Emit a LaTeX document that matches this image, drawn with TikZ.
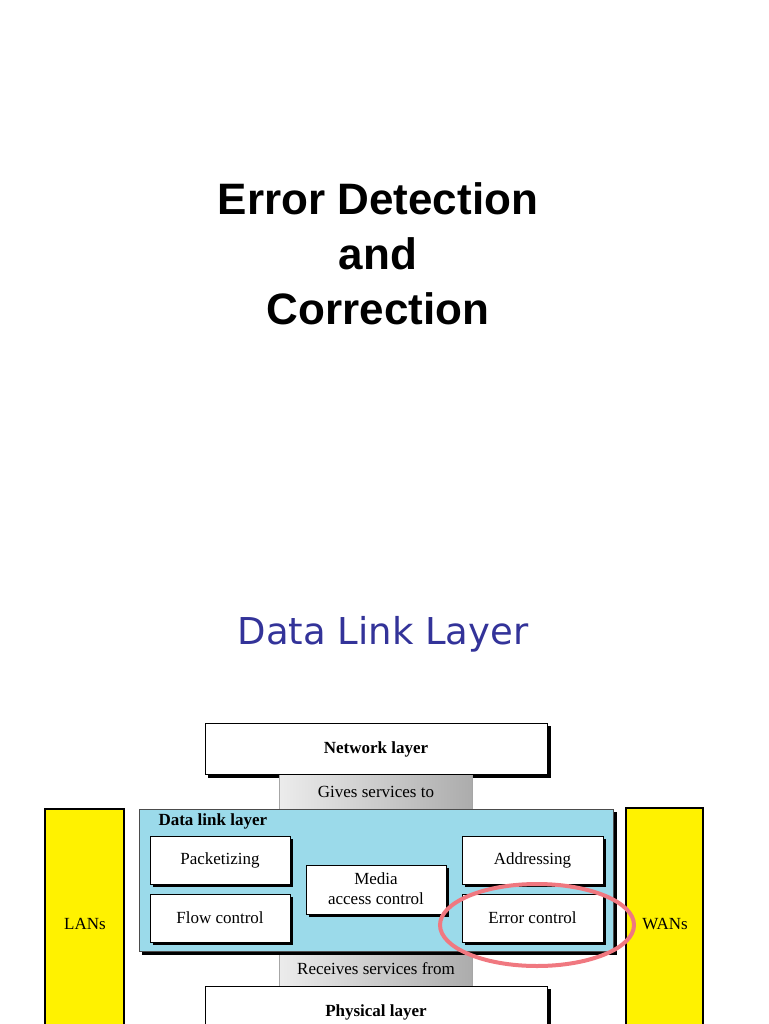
\documentclass[tikz,border=0pt]{standalone}
\usepackage{fontspec}
\setmainfont{Liberation Serif}
\newfontfamily\arialf{Liberation Sans}
\newfontfamily\verdf{DejaVu Sans}
\definecolor{dll}{HTML}{9BDAEA}
\definecolor{ttl}{HTML}{333399}
\definecolor{ring}{HTML}{F07880}
\begin{document}
\begin{tikzpicture}[x=1pt,y=-1pt,
  bx/.style={draw=black,line width=1pt,fill=white},
  shadow/.style={fill=black},
  lbl/.style={font=\fontsize{17}{19}\selectfont,align=center}]
\useasboundingbox (0,0) rectangle (768,1024);
\node[font=\arialf\bfseries\fontsize{44}{55}\selectfont,align=center] (title) at (378,254) {Error Detection\\and\\Correction};
\node[font=\verdf\fontsize{37}{40}\selectfont,text=ttl] (sub) at (383,634) {Data Link Layer};
% side bars
\draw[fill=yellow,line width=1.2pt] (45,809) rectangle (124,1030);
\node[lbl] (lans) at (85,924) {LANs};
\draw[fill=yellow,line width=1.2pt] (626,808) rectangle (703,1030);
% network layer
\fill[shadow] (208,726) rectangle (551,778);
\draw[bx] (205,723) rectangle (547,774);
\node[lbl,font=\bfseries\fontsize{17}{19}\selectfont] (net) at (376,749) {Network layer};
% bands
\shade[left color=gray!15,right color=gray!65] (279,775) rectangle (472,809);
\draw[gray!70] (279,775) -- (279,809) (472,775) -- (472,809);
\node[lbl] (gives) at (376,792) {Gives services to};
\shade[left color=gray!15,right color=gray!65] (279,951) rectangle (472,986);
\draw[gray!70] (279,951) -- (279,986) (472,951) -- (472,986);
\node[lbl] (recv) at (376,969) {Receives services from};
% data link
\fill[shadow] (142,812) rectangle (617,955);
\draw[fill=dll,draw=gray!60!black,line width=0.8pt] (139,809) rectangle (613,951);
\node[font=\bfseries\fontsize{17}{19}\selectfont,anchor=west] (dl) at (155,821) {Data link layer};
\foreach \x/\y/\w/\h/\t/\n in {150/836/140/48/Packetizing/pk, 150/894/140/48/Flow control/fc, 462/836/141/48/Addressing/ad, 462/894/141/48/Error control/ec}{
  \fill[shadow] (\x+3,\y+3) rectangle (\x+\w+3,\y+\h+3);
  \draw[bx] (\x,\y) rectangle (\x+\w,\y+\h);
  \node[lbl] (\n) at (\x+\w/2,\y+\h/2) {\t};
}
\fill[shadow] (309,868) rectangle (449,917);
\draw[bx] (306,865) rectangle (446,914);
\node[lbl,font=\fontsize{17}{20}\selectfont] (mac) at (376,889) {Media\\access control};
% physical
\fill[shadow] (208,989) rectangle (551,1030);
\draw[bx] (205,986) rectangle (547,1030);
\node[lbl,font=\bfseries\fontsize{17}{19}\selectfont] (phy) at (376,1012) {Physical layer};
\draw[ring,line width=4pt] (537,925) ellipse [x radius=97, y radius=41];
\node[lbl] (wans) at (665,924) {WANs};
\end{tikzpicture}
\end{document}
